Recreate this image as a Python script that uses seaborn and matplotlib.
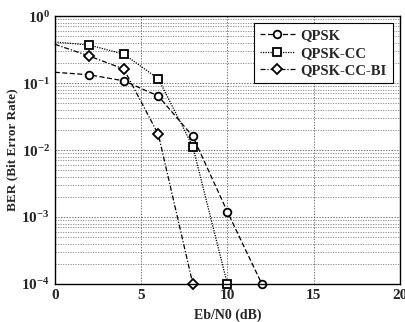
import math
import matplotlib
matplotlib.use('Agg')
import matplotlib.pyplot as plt
import matplotlib.ticker as mticker
import seaborn as sns
import pandas as pd

# values
ebn0 = [0, 2, 4, 6, 8, 10, 12]
ber_qpsk = [0.145, 0.133, 0.108, 0.064, 0.016, 0.0012, 1e-4]
ebn0_cc = [0, 2, 4, 6, 8, 10]
ber_cc = [0.41, 0.37, 0.27, 0.116, 0.0112, 1e-4]
ebn0_bi = [0, 2, 4, 6, 8]
ber_bi = [0.38, 0.253, 0.162, 0.0171, 1e-4]

sns.set_style('white')
plt.rcParams['font.family'] = ['Liberation Serif', 'DejaVu Serif']
plt.rcParams['font.weight'] = 'bold'
plt.rcParams['mathtext.fontset'] = 'custom'
plt.rcParams['mathtext.bf'] = 'Liberation Serif:bold'
plt.rcParams['mathtext.rm'] = 'Liberation Serif:bold'

fig = plt.figure(figsize=(4.06, 3.22), dpi=100)
ax = fig.add_axes([0.135, 0.118, 0.85, 0.832])

series = [
    ('QPSK', ebn0, ber_qpsk, (0, (4, 2)), 'o'),
    ('QPSK-CC', ebn0_cc, ber_cc, (0, (1, 1)), 's'),
    ('QPSK-CC-BI', ebn0_bi, ber_bi, (0, (4, 1.5, 1, 1.5)), 'D'),
]
for name, xs, ys, ls, mk in series:
    df = pd.DataFrame({'x': xs, 'y': ys})
    sns.lineplot(data=df, x='x', y='y', ax=ax, color='black', lw=0.9,
                 linestyle=ls, marker=mk, markersize=5.5 if mk != 'D' else 4.8,
                 markerfacecolor='white', markeredgecolor='black',
                 markeredgewidth=1.3, markevery=slice(1, None), label=name,
                 clip_on=False)

ax.set_yscale('log')
ax.set_xlim(0, 20)
ax.set_ylim(1e-4, 1)
ax.set_xticks([0, 5, 10, 15, 20])
ax.yaxis.set_major_locator(mticker.LogLocator(base=10, numticks=10))
ax.yaxis.set_minor_locator(mticker.LogLocator(base=10, subs=range(2, 10), numticks=10))
ax.yaxis.set_minor_formatter(mticker.NullFormatter())
ax.yaxis.set_major_formatter(mticker.FuncFormatter(
    lambda v, p: r'$\mathbf{10^{%d}}$' % round(math.log10(v))))

ax.grid(True, which='major', axis='both', color='0.25', linestyle=(0, (2, 2)), lw=0.5)
ax.grid(True, which='minor', axis='y', color='0.35', linestyle=(0, (2, 2)), lw=0.45)

for s in ax.spines.values():
    s.set_color('black')
    s.set_linewidth(1.0)

ax.tick_params(axis='both', which='major', labelsize=11, length=3, direction='in', color='black')
ax.tick_params(axis='y', which='minor', length=1.5, direction='in')
for lab in ax.get_xticklabels():
    lab.set_fontweight('bold')

ax.set_xlabel('Eb/N0 (dB)', fontsize=10, fontweight='bold', labelpad=5)
ax.set_ylabel('BER (Bit Error Rate)', fontsize=9.5, fontweight='bold', labelpad=2)

leg = ax.legend(loc='upper right', fontsize=10.5, frameon=True, fancybox=False,
                framealpha=1, edgecolor='black', handlelength=2.4,
                borderaxespad=0.5, labelspacing=0.3, handletextpad=0.4,
                borderpad=0.4)
leg.get_frame().set_linewidth(0.8)
for t in leg.get_texts():
    t.set_fontweight('bold')

fig.savefig('out.png', dpi=100)
